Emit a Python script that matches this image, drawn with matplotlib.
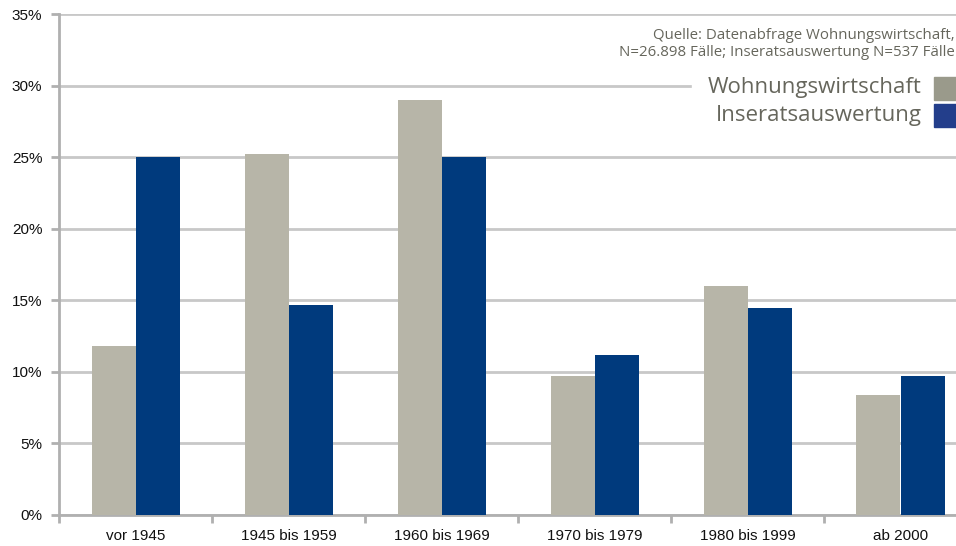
import matplotlib.pyplot as plt
from matplotlib.patches import Rectangle
import numpy as np

# data
categories = ["vor 1945", "1945 bis 1959", "1960 bis 1969", "1970 bis 1979", "1980 bis 1999", "ab 2000"]
wohnungswirtschaft = [11.8, 25.2, 29.0, 9.7, 16.0, 8.4]
inseratsauswertung = [25.0, 14.7, 25.0, 11.2, 14.45, 9.7]
series_names = ["Wohnungswirtschaft", "Inseratsauswertung"]
source_text = "Quelle: Datenabfrage Wohnungswirtschaft,\nN=26.898 Fälle; Inseratsauswertung N=537 Fälle"

grey_bar = "#b7b5a8"
navy_bar = "#003a7d"
grid_col = "#c8c8c8"
text_grey = "#66665c"

W, H = 956, 546
fig = plt.figure(figsize=(W / 100, H / 100), dpi=100)
ax = fig.add_axes([59 / W, 31 / H, 918 / W, 501 / H])

x = np.arange(len(categories))
bw = 44 / 153
ax.bar(x - bw / 2, wohnungswirtschaft, bw, color=grey_bar, zorder=3)
ax.bar(x + bw / 2, inseratsauswertung, bw, color=navy_bar, zorder=3)

ax.set_xlim(-0.5, len(categories) - 0.5)
ax.set_ylim(0, 35)
ax.set_yticks(range(0, 36, 5))
ax.set_yticklabels([f"{v}%" for v in range(0, 36, 5)])
ax.yaxis.grid(True, color=grid_col, lw=2, zorder=0)
ax.set_xticks(x)
ax.set_xticklabels(categories)
ax.set_xticks(np.arange(-0.5, len(categories), 1), minor=True)
ax.tick_params(axis="x", which="major", length=0, labelsize=11, pad=10)
ax.tick_params(axis="x", which="minor", length=6, width=2, color="#b0b0b0", direction="out")
ax.tick_params(axis="y", length=6, width=2, color="#b0b0b0", labelsize=11, pad=6)
for lab in ax.get_xticklabels() + ax.get_yticklabels():
    lab.set_family(["Liberation Sans", "DejaVu Sans"])
    lab.set_color("#111111")
for s in ["top", "right"]:
    ax.spines[s].set_visible(False)
for s in ["left", "bottom"]:
    ax.spines[s].set_color("#b0b0b0")
    ax.spines[s].set_linewidth(2)

# legend box (white background hides gridline)
fig.patches.append(Rectangle((692 / W, 1 - 132 / H), (W - 692) / W, 62 / H,
                             transform=fig.transFigure, color="white", zorder=5))
leg_colors = ["#9a9a8b", "#233e8b"]
for i, name in enumerate(series_names):
    yc = 1 - (88 + i * 27) / H
    fig.text(922 / W, yc, name, ha="right", va="center", fontsize=16,
             family="Open Sans", color=text_grey, zorder=6)
    fig.patches.append(Rectangle((934 / W, yc - 12 / H), 30 / W, 23.5 / H,
                                 transform=fig.transFigure, color=leg_colors[i], zorder=6))

fig.text(955 / W, 1 - 44 / H, source_text, ha="right", va="center", fontsize=10.8,
         family="Open Sans", color=text_grey, linespacing=1.25, zorder=6)

fig.savefig("out.png", dpi=100)
